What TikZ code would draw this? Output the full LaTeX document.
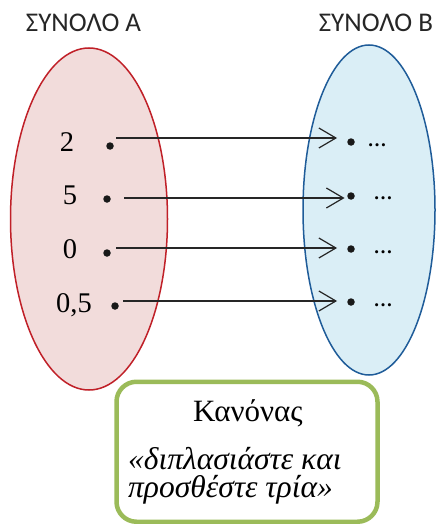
\documentclass[tikz,border=0pt]{standalone}
\usepackage{fontspec}
\setmainfont{Liberation Serif}
\newfontfamily\titlefont{Carlito}
\usetikzlibrary{arrows.meta,shapes.geometric}
\definecolor{setred}{RGB}{192,32,40}
\definecolor{setredfill}{RGB}{242,220,219}
\definecolor{setblue}{RGB}{31,92,153}
\definecolor{setbluefill}{RGB}{218,238,246}
\definecolor{rulegreen}{RGB}{155,187,89}

\begin{document}
\begin{tikzpicture}[x=1pt,y=-1pt,>={Straight Barb[length=17pt,width=20pt]},
  set/.style={ellipse,draw,line width=1.5pt,inner sep=0pt},
  dot/.style={circle,fill=black!90,inner sep=0pt,minimum size=7.5pt},
  num/.style={anchor=base,font=\fontsize{28.5}{32}\selectfont},
  img/.style={anchor=base,font=\bfseries\fontsize{19}{20}\selectfont},
  ttl/.style={anchor=base,font=\titlefont\fontsize{27}{30}\selectfont,text=black!85},
  map/.style={->,line width=1.2pt,black!85}]
 \useasboundingbox (0,0) rectangle (436,524);
 % the two sets
 \node[set,draw=setred,fill=setredfill,minimum width=157pt,minimum height=342pt] (setA) at (89,219) {};
 \node[set,draw=setblue,fill=setbluefill,minimum width=132pt,minimum height=330pt] (setB) at (369,210) {};
 \node[ttl] (tA) at (83.5,32) {ΣΥΝΟΛΟ Α};
 \node[ttl] (tB) at (376,32) {ΣΥΝΟΛΟ Β};
 % elements of A
 \node[num] (n1) at (67,151) {2};
 \node[num] (n2) at (70,204) {5};
 \node[num] (n3) at (70,258) {0};
 \node[num] (n4) at (74,312) {0,5};
 \node[dot] (a1) at (110,146) {};
 \node[dot] (a2) at (107,199) {};
 \node[dot] (a3) at (107,253) {};
 \node[dot] (a4) at (115,306) {};
 % images in B
 \node[dot] (b1) at (351,142) {};
 \node[dot] (b2) at (351,196) {};
 \node[dot] (b3) at (351,249) {};
 \node[dot] (b4) at (351,302) {};
 \node[img] (m1) at (377,146) {…};
 \node[img] (m2) at (383,199.5) {…};
 \node[img] (m3) at (383,253.5) {…};
 \node[img] (m4) at (383,306) {…};
 % arrows
 \coordinate (s1) at (116,138);
 \coordinate (s2) at (124,198);
 \coordinate (s3) at (116,248);
 \coordinate (s4) at (123,301);
 \draw[map] (s1) -- ([xshift=-10pt]s1 -| b1.west);
 \draw[map] (s2) -- ([xshift=-2.5pt]s2 -| b2.west);
 \draw[map] (s3) -- ([xshift=-10pt]s3 -| b3.west);
 \draw[map] (s4) -- ([xshift=-10pt]s4 -| b4.west);
 % rule box
 \node[draw=rulegreen,line width=4.5pt,rounded corners=20pt,fill=white,minimum width=261pt,minimum height=140pt] (box) at (247,451.75) {};
 \node[anchor=base,font=\fontsize{31}{32}\selectfont] (rule) at (248,421.5) {Κανόνας};
 \node[anchor=base west,align=left,inner sep=0pt,font=\itshape\fontsize{31.5}{28.5}\selectfont] (rtxt) at (128,497.5) {«διπλασιάστε και\\ προσθέστε τρία»};
\end{tikzpicture}
\end{document}
